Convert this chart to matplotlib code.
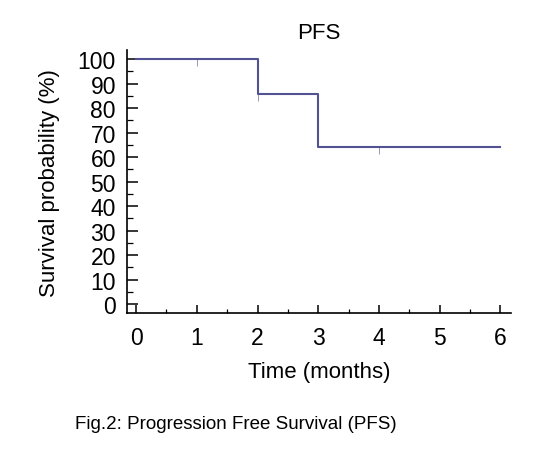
import matplotlib
matplotlib.use("Agg")
import matplotlib.pyplot as plt
from matplotlib.ticker import MultipleLocator

# Kaplan-Meier step values (PFS)
time_months = [0, 2, 3, 6]
survival_pct = [100, 85.7, 64.3, 64.3]
censor_times = [1, 2, 4]
censor_pct = [100, 85.7, 64.3]

plt.rcParams["font.family"] = ["Liberation Sans", "DejaVu Sans"]
line_color = "#525292"

fig = plt.figure(figsize=(5.57, 4.52), dpi=100)
ax = fig.add_axes([0.228, 0.305, 0.689, 0.582])

ax.step(time_months, survival_pct, where="post", color=line_color, lw=1.5)
# censored observations: small downward ticks
ax.plot(censor_times, censor_pct, ls="none", marker=3, ms=5,
        markeredgewidth=0.7, color=line_color, alpha=0.6)

ax.set_xlim(-0.15, 6.17)
ax.set_ylim(-3.7, 103.7)
ax.xaxis.set_major_locator(MultipleLocator(1))
ax.xaxis.set_minor_locator(MultipleLocator(0.5))
ax.yaxis.set_major_locator(MultipleLocator(10))
ax.yaxis.set_minor_locator(MultipleLocator(5))

for s in ["top", "right"]:
    ax.spines[s].set_visible(False)
for s in ["left", "bottom"]:
    ax.spines[s].set_linewidth(1.2)

ax.tick_params(axis="x", which="major", direction="in", length=6, width=1.1,
               labelsize=16.5, pad=9)
ax.tick_params(axis="x", which="minor", direction="in", length=3, width=0.9)
ax.tick_params(axis="y", which="major", direction="in", length=8, width=1.1,
               labelsize=16.5, pad=8)
ax.tick_params(axis="y", which="minor", direction="in", length=4, width=0.9)

ax.set_xlabel("Time (months)", fontsize=16, labelpad=9)
ax.set_ylabel("Survival probability (%)", fontsize=16, labelpad=13)
ax.set_title("PFS", fontsize=16, pad=9)

fig.text(0.135, 0.06, "Fig.2: Progression Free Survival (PFS)", fontsize=13.5,
         ha="left", va="center")

fig.savefig("out.png", dpi=100)
